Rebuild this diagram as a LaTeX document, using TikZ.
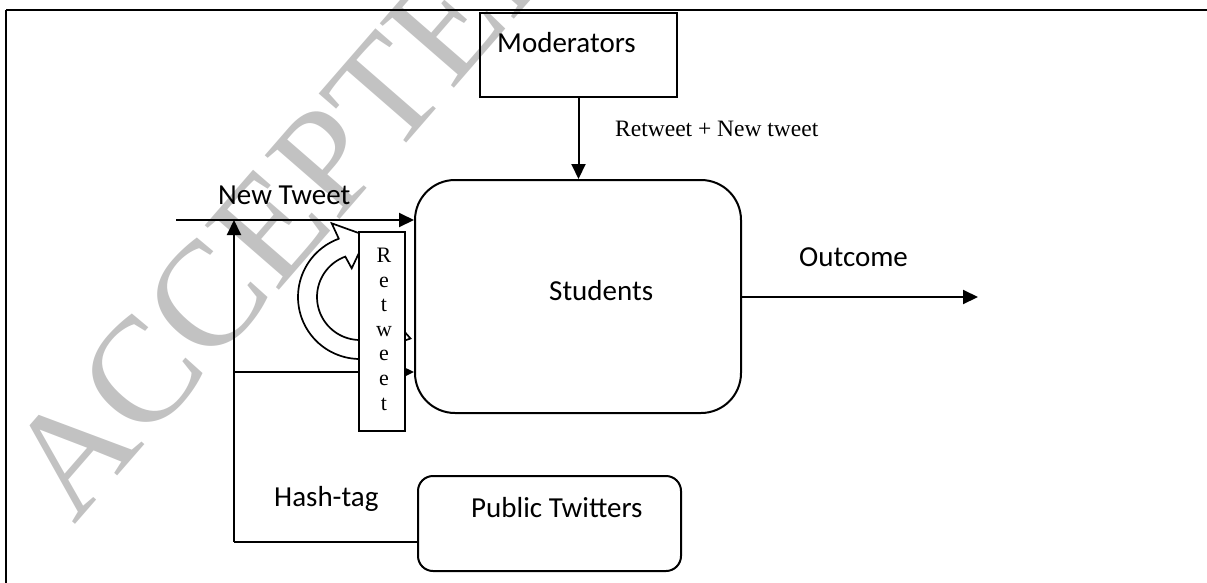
\documentclass[tikz,border=0pt]{standalone}
\usepackage{fontspec}
\setmainfont{Carlito}
\newfontfamily\timesf{Liberation Serif}
\usetikzlibrary{arrows.meta}
\begin{document}
\begin{tikzpicture}[x=1pt,y=-1pt,
  lbl/.style={inner sep=0pt, anchor=base west, font=\fontsize{29}{34}\selectfont},
  tlbl/.style={inner sep=0pt, anchor=base west, font=\timesf\fontsize{23.5}{28}\selectfont},
  box/.style={draw, line width=2pt, inner sep=0pt},
  conn/.style={line width=2pt},
  arr/.style={line width=2pt, -{Triangle[length=15pt,width=14pt]}},
  rtletter/.style={inner sep=0pt, anchor=base, font=\timesf\fontsize{22}{22}\selectfont}]
\useasboundingbox (0,0) rectangle (1207,582);
\clip (0,0) rectangle (1207,582);
% watermark
\node[anchor=base west, inner sep=0pt, rotate=49, text=black!24,
      font=\timesf\fontsize{150}{150}\selectfont] (wm) at (74,526) {ACCEPTED};
% frame
\draw[line width=2.5pt] (6,10) -- (1240,10);
\draw[line width=2.5pt] (6,10) -- (6,600);
% boxes
\node[box, minimum width=197pt, minimum height=84pt] (mod) at (578.5,55) {};
\node[lbl] (modt) at (497,52) {Moderators};
\node[box, rounded corners=40pt, minimum width=326pt, minimum height=233pt, fill=white] (stud) at (578,296.5) {};
\node[lbl] (studt) at (549,300) {Students};
\node[box, rounded corners=15pt, minimum width=263pt, minimum height=95pt, fill=white] (pub) at (549.5,523.5) {};
\node[lbl] (pubt) at (471,517) {Public Twitters};
% coordinates
\coordinate (ntstart) at (176,220);
\coordinate (corner) at (234,542);
\coordinate (midl) at (234,372);
\coordinate (upend) at (234,220);
\coordinate (outend) at (978,297);
% connectors
\draw[arr] (mod.south) -- (mod.south |- stud.north);
\node[tlbl] (rnt) at (615,136) {Retweet + New tweet};
\draw[arr] (ntstart) -- (ntstart -| stud.west);
\node[lbl] (ntl) at (218,204) {New Tweet};
\draw[arr] (corner) -- (upend);
\draw[conn] (corner) -- (corner -| pub.west);
\node[lbl] (hash) at (274,506) {Hash-tag};
\draw[arr] (midl) -- (midl -| stud.west);
\draw[arr] (stud.east |- outend) -- (outend);
\node[lbl] (outl) at (799,266) {Outcome};
% circular arrow
\filldraw[fill=white, line width=1.7pt, line join=miter]
  (338.8,238.7)
  -- plot[domain=110:315, samples=60] ({360+62*cos(\x)},{297-62*sin(\x)})
  -- (410.5,338.5) -- (403,330)
  -- plot[domain=345:110, samples=60] ({360+43*cos(\x)},{297-43*sin(\x)})
  -- (351.7,268.3) -- (367,236) -- (331.7,223.3) -- cycle;
% retweet box
\node[box, fill=white, minimum width=46pt, minimum height=199pt] (rt) at (382,331.5) {};
\foreach \c [count=\i from 0] in {R,e,t,w,e,e,t}
  \node[rtletter] (rt\i) at (384,{262.5+24.6*\i}) {\c};
\end{tikzpicture}
\end{document}
